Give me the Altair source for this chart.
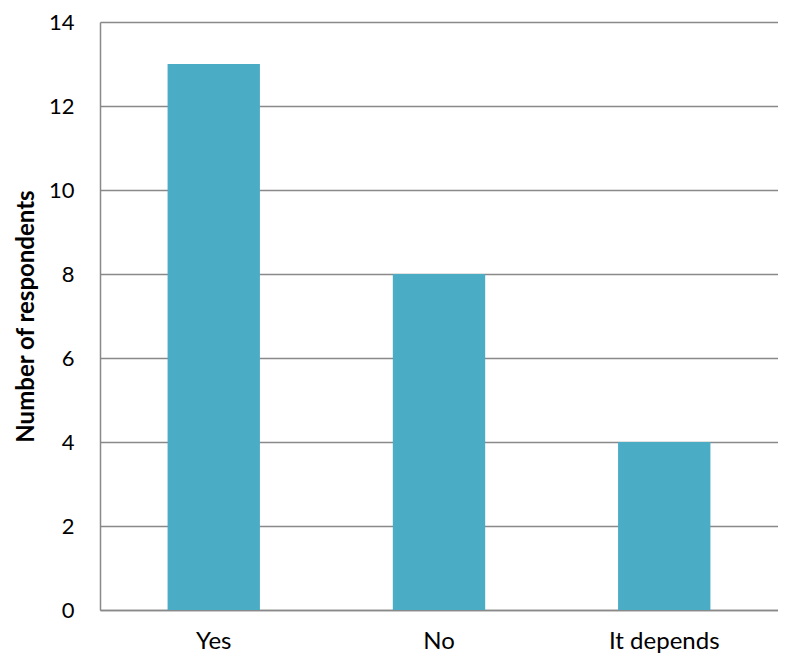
import altair as alt
import pandas as pd

categories = ["Yes", "No", "It depends"]
values = [13, 8, 4]

df = pd.DataFrame({"answer": categories, "count": values})

chart = alt.Chart(df).mark_bar(color="#4BACC6").encode(
    x=alt.X("answer:N", sort=categories, title=None,
            scale=alt.Scale(paddingInner=0.59, paddingOuter=0.3),
            axis=alt.Axis(labelAngle=0, ticks=False, labelPadding=19, labelFontSize=24,
                          labelFont="Lato", labelColor="#000000",
                          domainColor="#898989", domainWidth=1.5)),
    y=alt.Y("count:Q", title="Number of respondents",
            scale=alt.Scale(domain=[0, 14]),
            axis=alt.Axis(values=[0, 2, 4, 6, 8, 10, 12, 14], ticks=False, labelPadding=26,
                          labelFontSize=22, labelFont="Lato", labelColor="#000000",
                          titleFont="Lato", titleFontSize=24, titleFontWeight="bold",
                          titleColor="#000000", titlePadding=10,
                          gridColor="#898989", gridWidth=1.5,
                          domainColor="#898989", domainWidth=1.5)),
).properties(
    width=678, height=588,
    autosize=alt.AutoSizeParams(type="none"),
    padding={"left": 92, "top": 14, "right": 0, "bottom": 43},
).configure_view(stroke=None)

chart.save("out.html", embed_options={"renderer": "svg", "actions": False})
